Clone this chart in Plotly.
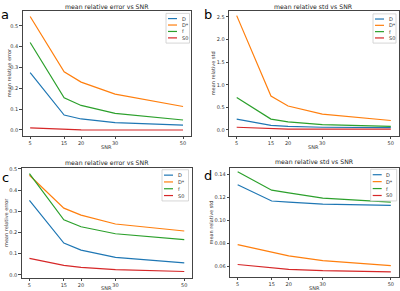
import plotly.graph_objects as go

snr = [5, 15, 20, 30, 50]
snr_ticks = [5, 15, 20, 30, 50]
series_names = ["D", "D*", "f", "S0"]
colors = ["#1f77b4", "#ff7f0e", "#2ca02c", "#d62728"]

# panel a: mean relative error vs SNR
a_D = [0.275, 0.072, 0.053, 0.035, 0.023]
a_Dstar = [0.545, 0.280, 0.230, 0.172, 0.113]
a_f = [0.420, 0.155, 0.118, 0.080, 0.048]
a_S0 = [0.010, 0.003, 0.001, 0.000, 0.000]

# panel b: mean relative std vs SNR
b_D = [0.24, 0.10, 0.08, 0.06, 0.05]
b_Dstar = [2.53, 0.75, 0.53, 0.35, 0.21]
b_f = [0.72, 0.24, 0.18, 0.12, 0.08]
b_S0 = [0.06, 0.025, 0.02, 0.02, 0.02]

# panel c: mean relative error vs SNR
c_D = [0.352, 0.150, 0.117, 0.083, 0.057]
c_Dstar = [0.470, 0.315, 0.282, 0.240, 0.207]
c_f = [0.478, 0.260, 0.227, 0.194, 0.166]
c_S0 = [0.078, 0.045, 0.035, 0.025, 0.016]

# panel d: mean relative std vs SNR
d_D = [0.1312, 0.1170, 0.1160, 0.1142, 0.1132]
d_Dstar = [0.0790, 0.0727, 0.0692, 0.0650, 0.0607]
d_f = [0.1425, 0.1264, 0.1240, 0.1195, 0.1160]
d_S0 = [0.0617, 0.0587, 0.0575, 0.0563, 0.0553]

a_yticks = [0.0, 0.1, 0.2, 0.3, 0.4, 0.5]
b_yticks = [0.0, 0.5, 1.0, 1.5, 2.0, 2.5]
c_yticks = [0.0, 0.1, 0.2, 0.3, 0.4, 0.5]
d_yticks = [0.06, 0.08, 0.10, 0.12, 0.14]

W, H = 400, 291
def px(x):
    return x / W
def py(y):
    return 1 - y / H

panels = [
    dict(letter="a", title="mean relative error vs SNR", ylab="mean relative error",
         data=[a_D, a_Dstar, a_f, a_S0], yticks=a_yticks, tickfmt=".1f",
         box=(22.5, 8, 190.7, 134), yr=[-0.027, 0.572],
         title_y=4, ylab_x=9, xlab_y=145, letter_xy=(5, 12),
         leg=(166, 10.5, 189.5, 40.5)),
    dict(letter="b", title="mean relative std vs SNR", ylab="mean relative std",
         data=[b_D, b_Dstar, b_f, b_S0], yticks=b_yticks, tickfmt=".1f",
         box=(229, 8, 398.5, 134), yr=[-0.125, 2.634],
         title_y=4, ylab_x=213, xlab_y=145, letter_xy=(208, 12),
         leg=(373, 11, 396, 40.5)),
    dict(letter="c", title="mean relative error vs SNR", ylab="mean relative error",
         data=[c_D, c_Dstar, c_f, c_S0], yticks=c_yticks, tickfmt=".1f",
         box=(21.7, 167, 192, 277.5), yr=[-0.013, 0.503],
         title_y=161, ylab_x=6, xlab_y=288, letter_xy=(5, 176),
         leg=(162, 168.5, 188.5, 200)),
    dict(letter="d", title="mean relative std vs SNR", ylab="mean relative std",
         data=[d_D, d_Dstar, d_f, d_S0], yticks=d_yticks, tickfmt=".2f",
         box=(230, 167, 398.5, 276.5), yr=[0.0511, 0.1455],
         title_y=160, ylab_x=211, xlab_y=288, letter_xy=(208, 174),
         leg=(370.7, 168, 396.7, 200)),
]

fig = go.Figure()
shapes = []
annots = []
font = "DejaVu Sans"

for i, p in enumerate(panels):
    n = i + 1
    xa = "xaxis" if n == 1 else f"xaxis{n}"
    ya = "yaxis" if n == 1 else f"yaxis{n}"
    xr = "x" if n == 1 else f"x{n}"
    yr = "y" if n == 1 else f"y{n}"
    x0, y0, x1, y1 = p["box"]
    for name, vals, col in zip(series_names, p["data"], colors):
        fig.add_trace(go.Scatter(x=snr, y=vals, mode="lines", name=name,
                                 line=dict(color=col, width=1.2),
                                 xaxis=xr, yaxis=yr, showlegend=False))
    axcommon = dict(showline=True, linecolor="#444", linewidth=0.8, mirror=True,
                    ticks="outside", ticklen=2.5, tickwidth=0.7, tickcolor="#444",
                    showgrid=False, zeroline=False,
                    tickfont=dict(size=5, color="#333", family=font))
    fig.update_layout({
        xa: dict(domain=[px(x0), px(x1)], range=[2.75, 52.25], tickmode="array",
                 tickvals=snr_ticks, ticktext=[str(t) for t in snr_ticks],
                 anchor=yr, **axcommon),
        ya: dict(domain=[py(y1), py(y0)], range=p["yr"], tickmode="array",
                 tickvals=p["yticks"], ticktext=[format(t, p["tickfmt"]) for t in p["yticks"]],
                 anchor=xr, **axcommon),
    })
    cx = (x0 + x1) / 2
    annots.append(dict(text=p["title"], x=px(cx), y=py(p["title_y"]), xref="paper", yref="paper",
                       xanchor="center", yanchor="middle", showarrow=False,
                       font=dict(size=6.2, color="#222", family=font)))
    annots.append(dict(text="SNR", x=px(cx), y=py(p["xlab_y"]), xref="paper", yref="paper",
                       xanchor="center", yanchor="middle", showarrow=False,
                       font=dict(size=5, color="#333", family=font)))
    annots.append(dict(text=p["ylab"], x=px(p["ylab_x"]), y=py((y0 + y1) / 2), xref="paper", yref="paper",
                       xanchor="center", yanchor="middle", showarrow=False, textangle=-90,
                       font=dict(size=5, color="#333", family=font)))
    lx, ly = p["letter_xy"]
    annots.append(dict(text=p["letter"], x=px(lx), y=py(ly), xref="paper", yref="paper",
                       xanchor="center", yanchor="middle", showarrow=False,
                       font=dict(size=13, color="#000", family=font)))
    # legend box
    gx0, gy0, gx1, gy1 = p["leg"]
    shapes.append(dict(type="rect", xref="paper", yref="paper",
                       x0=px(gx0), x1=px(gx1), y0=py(gy1), y1=py(gy0),
                       line=dict(color="#cccccc", width=0.8), fillcolor="rgba(255,255,255,0.85)"))
    step = (gy1 - gy0 - 4) / 4
    for k, (name, col) in enumerate(zip(series_names, colors)):
        ry = gy0 + 2 + step * (k + 0.5)
        shapes.append(dict(type="line", xref="paper", yref="paper",
                           x0=px(gx0 + 2), x1=px(gx0 + 11), y0=py(ry), y1=py(ry),
                           line=dict(color=col, width=1.2)))
        annots.append(dict(text=name, x=px(gx0 + 13.5), y=py(ry), xref="paper", yref="paper",
                           xanchor="left", yanchor="middle", showarrow=False,
                           font=dict(size=5, color="#333", family=font)))

fig.update_layout(width=W, height=H, margin=dict(l=0, r=0, t=0, b=0),
                  paper_bgcolor="white", plot_bgcolor="white",
                  shapes=shapes, annotations=annots, showlegend=False)

fig.write_html("out.html", config={"displayModeBar": False},
               post_script="document.body.style.margin='0px';document.body.style.overflow='hidden';")
